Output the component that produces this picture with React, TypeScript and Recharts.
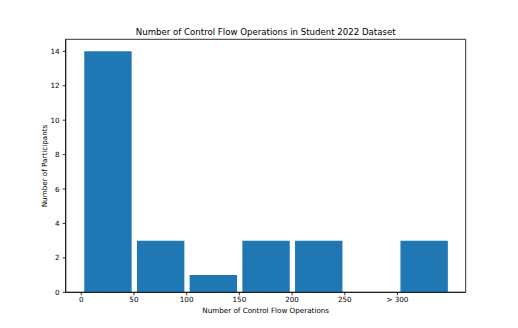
import React from "react";
import { ComposedChart, Bar, XAxis, YAxis, ReferenceArea } from "recharts";

const binStarts = [0, 50, 100, 150, 200, 250, 300];
const counts = [14, 3, 1, 3, 3, 0, 3];
const xTickValues = [0, 50, 100, 150, 200, 250, 300];
const xTickLabels = ["0", "50", "100", "150", "200", "250", "> 300"];
const yTicks = [0, 2, 4, 6, 8, 10, 12, 14];
const title = "Number of Control Flow Operations in Student 2022 Dataset";
const xLabel = "Number of Control Flow Operations";
const yLabel = "Number of Participants";

const binWidth = 50;
const data = binStarts.map((s, i) => ({ x: s + binWidth / 2, count: counts[i] }));

const X_DOMAIN: [number, number] = [-14.75, 364.75];
const Y_DOMAIN: [number, number] = [0, 14.7];
const FONT = "DejaVu Sans";

export default function App() {
  const tickStyle = { fontSize: 7.2, fill: "#000", fontFamily: FONT };
  return (
    <div style={{ position: "relative", width: 518, height: 328, background: "#fff" }}>
      <style>{`body{margin:0;}`}</style>
      <ComposedChart
        width={518}
        height={328}
        data={data}
        margin={{ top: 39.3, right: 52.3, bottom: 15.7, left: 25.7 }}
      >
        <XAxis
          dataKey="x"
          type="number"
          domain={X_DOMAIN}
          ticks={xTickValues}
          tickFormatter={(v: number) => xTickLabels[xTickValues.indexOf(v)] ?? String(v)}
          height={20}
          tickSize={3}
          tickMargin={2}
          tick={tickStyle}
          axisLine={{ stroke: "#000", strokeWidth: 0.8 }}
          tickLine={{ stroke: "#000", strokeWidth: 0.8 }}
          allowDataOverflow
        />
        <YAxis
          type="number"
          domain={Y_DOMAIN}
          ticks={yTicks}
          width={40}
          tickSize={3}
          tickMargin={3}
          tick={tickStyle}
          axisLine={{ stroke: "#000", strokeWidth: 0.8 }}
          tickLine={{ stroke: "#000", strokeWidth: 0.8 }}
          allowDataOverflow
        />
        <Bar dataKey="count" fill="#1f77b4" barSize={47.4} isAnimationActive={false} />
        <ReferenceArea
          x1={X_DOMAIN[0]}
          x2={X_DOMAIN[1]}
          y1={Y_DOMAIN[0]}
          y2={Y_DOMAIN[1]}
          fill="none"
          stroke="#000"
          strokeWidth={0.8}
          ifOverflow="visible"
        />
      </ComposedChart>
      <div
        style={{
          position: "absolute",
          left: 265.7,
          top: 31.5,
          transform: "translate(-50%, -50%)",
          fontFamily: FONT,
          fontSize: 8.6,
          lineHeight: "8.6px",
          whiteSpace: "nowrap",
          color: "#000",
        }}
      >
        {title}
      </div>
      <div
        style={{
          position: "absolute",
          left: 265.7,
          top: 311,
          transform: "translate(-50%, -50%)",
          fontFamily: FONT,
          fontSize: 7.2,
          lineHeight: "7.2px",
          whiteSpace: "nowrap",
          color: "#000",
        }}
      >
        {xLabel}
      </div>
      <div
        style={{
          position: "absolute",
          left: 44.5,
          top: 165.8,
          transform: "translate(-50%, -50%) rotate(-90deg)",
          fontFamily: FONT,
          fontSize: 7.2,
          lineHeight: "7.2px",
          whiteSpace: "nowrap",
          color: "#000",
        }}
      >
        {yLabel}
      </div>
    </div>
  );
}
